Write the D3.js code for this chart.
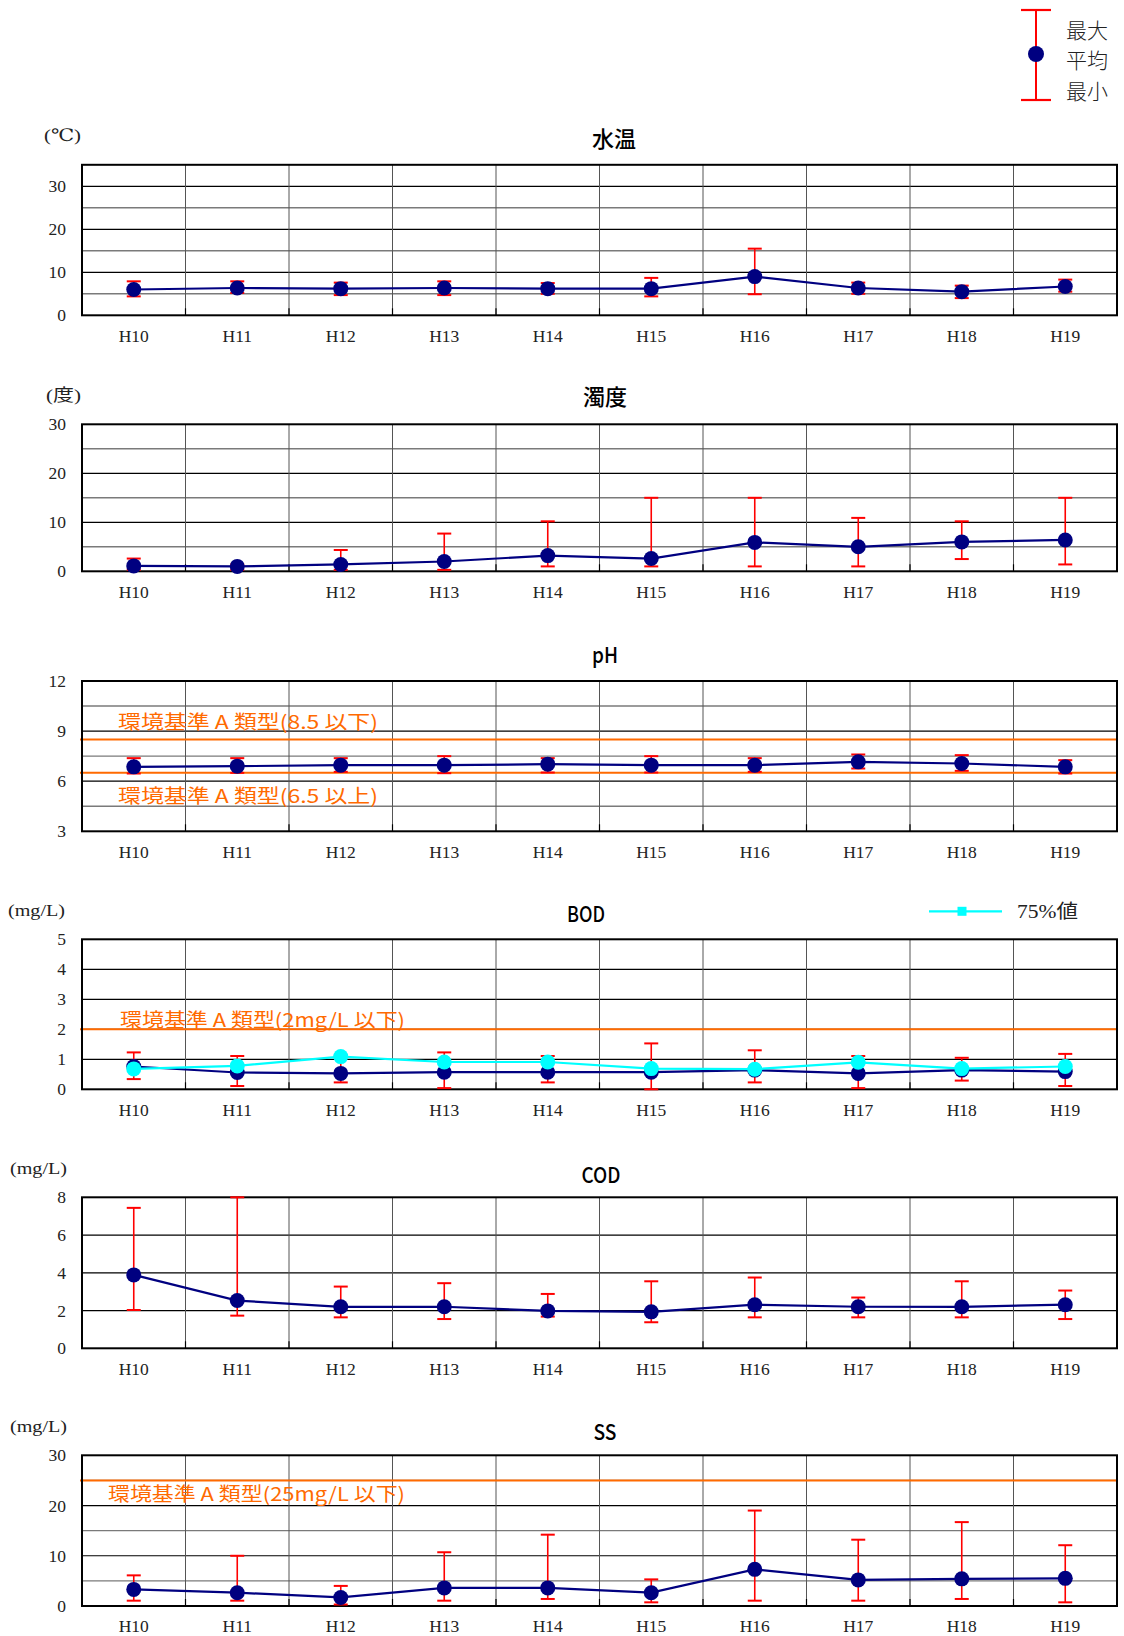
<!DOCTYPE html>
<html><head><meta charset="utf-8">
<script src="https://cdn.jsdelivr.net/npm/d3@7"></script>
<style>body{margin:0;background:#fff}svg{display:block}</style>
</head><body><svg id="c" width="1124" height="1636"></svg>
<script>
// ---------- data ----------
const years = ["H10","H11","H12","H13","H14","H15","H16","H17","H18","H19"];

const tempMean = [6.0, 6.35, 6.2, 6.35, 6.2, 6.2, 9.0, 6.35, 5.5, 6.7];
const tempMax  = [7.9, 7.9, 7.6, 7.9, 7.5, 8.7, 15.5, 7.6, 6.9, 8.3];
const tempMin  = [4.4, 5.2, 4.7, 4.7, 5.0, 4.4, 4.9, 5.0, 4.0, 5.5];

const turbMean = [1.1, 1.0, 1.4, 2.0, 3.2, 2.6, 5.9, 5.0, 6.0, 6.4];
const turbMax  = [2.6, 1.4, 4.35, 7.7, 10.2, 15.0, 15.0, 10.9, 10.2, 15.0];
const turbMin  = [0.3, 0.3, 0.3, 0.3, 1.0, 1.0, 1.0, 1.0, 2.5, 1.4];

const phMean = [6.86, 6.9, 6.96, 6.96, 7.02, 6.96, 6.96, 7.16, 7.06, 6.86];
const phMax  = [7.38, 7.38, 7.38, 7.5, 7.38, 7.5, 7.38, 7.6, 7.56, 7.26];
const phMin  = [6.46, 6.5, 6.56, 6.48, 6.52, 6.52, 6.56, 6.76, 6.62, 6.46];

const bodMean = [0.76, 0.56, 0.53, 0.57, 0.57, 0.57, 0.64, 0.53, 0.64, 0.59];
const bodMax  = [1.23, 1.11, 1.1, 1.23, 1.11, 1.53, 1.3, 1.11, 1.05, 1.18];
const bodMin  = [0.34, 0.11, 0.23, 0.04, 0.23, 0.0, 0.23, 0.04, 0.29, 0.11];
const bod75   = [0.68, 0.78, 1.09, 0.91, 0.91, 0.69, 0.67, 0.9, 0.69, 0.76];

const codMean = [3.89, 2.53, 2.2, 2.2, 1.98, 1.93, 2.31, 2.2, 2.2, 2.31];
const codMax  = [7.44, 8.0, 3.27, 3.45, 2.88, 3.55, 3.75, 2.69, 3.55, 3.06];
const codMin  = [2.03, 1.73, 1.64, 1.55, 1.68, 1.38, 1.64, 1.64, 1.64, 1.55];

const ssMean = [3.3, 2.65, 1.7, 3.6, 3.6, 2.65, 7.3, 5.2, 5.4, 5.5];
const ssMax  = [6.1, 10.0, 4.0, 10.7, 14.2, 5.3, 19.0, 13.2, 16.7, 12.1];
const ssMin  = [1.06, 1.06, 0.3, 1.06, 1.4, 0.73, 1.06, 1.06, 1.4, 0.73];

const ticksTemp = [0, 10, 20, 30];
const ticksTurb = [0, 10, 20, 30];
const ticksPh   = [3, 6, 9, 12];
const ticksBod  = [0, 1, 2, 3, 4, 5];
const ticksCod  = [0, 2, 4, 6, 8];
const ticksSs   = [0, 10, 20, 30];

const stdLabelPhHigh = "環境基準 A 類型(8.5 以下)";
const stdLabelPhLow  = "環境基準 A 類型(6.5 以上)";
const stdLabelBod    = "環境基準 A 類型(2mg/L 以下)";
const stdLabelSs     = "環境基準 A 類型(25mg/L 以下)";
const legendLabels = ["最大", "平均", "最小"];
const legend75 = "75%値";

// ---------- layout ----------
const svg = d3.select("#c");
svg.append("rect").attr("width",1124).attr("height",1636).attr("fill","#fff");
const L = 82, R = 1117;
const SERIF = "'Liberation Serif','DejaVu Serif','Noto Sans CJK JP',serif";
const GOTHIC = "'Noto Sans CJK JP','Noto Sans',sans-serif";
const ORANGE = "#FF6A00";
const NAVY = "#000080";

const charts = [
  {title:"水温", titleX:614, titleDy:28, titleW:null, unit:"(℃)", unitX:44, unitW:37, top:164.8, bottom:315.3, domain:[0,35], step:5, ticks:ticksTemp,
   mean:tempMean, max:tempMax, min:tempMin, stds:[]},
  {title:"濁度", titleX:605, titleDy:29, titleW:null, unit:"(度)", unitX:46, unitW:35, top:424.3, bottom:571.3, domain:[0,30], step:5, ticks:ticksTurb,
   mean:turbMean, max:turbMax, min:turbMin, stds:[]},
  {title:"pH", titleX:605, titleDy:28, titleW:26, unit:null, top:681, bottom:831.3, domain:[3,12], step:1.5, ticks:ticksPh,
   mean:phMean, max:phMax, min:phMin,
   stds:[{v:8.5, text:stdLabelPhHigh, x:118, dy:-19, w:260},{v:6.5, text:stdLabelPhLow, x:118, dy:22, w:260}]},
  {title:"BOD", titleX:586, titleDy:27, titleW:38, unit:"(mg/L)", unitX:8, unitW:57, top:939.3, bottom:1089.3, domain:[0,5], step:1, ticks:ticksBod,
   mean:bodMean, max:bodMax, min:bodMin, p75:bod75,
   stds:[{v:2, text:stdLabelBod, x:120, dy:-11, w:285}]},
  {title:"COD", titleX:601, titleDy:24, titleW:39, unit:"(mg/L)", unitX:10, unitW:57, top:1197.3, bottom:1348.3, domain:[0,8], step:2, ticks:ticksCod,
   mean:codMean, max:codMax, min:codMin, stds:[]},
  {title:"SS", titleX:605, titleDy:25.5, titleW:23, unit:"(mg/L)", unitX:10, unitW:57, top:1455.3, bottom:1606, domain:[0,30], step:5, ticks:ticksSs,
   mean:ssMean, max:ssMax, min:ssMin,
   stds:[{v:25, text:stdLabelSs, x:108, dy:12, w:297}]}
];

const x = d3.scaleBand().domain(years).range([L, R]);
const cx = d => x(d) + x.bandwidth()/2;

charts.forEach(cfg => {
  const g = svg.append("g");
  const y = d3.scaleLinear().domain(cfg.domain).range([cfg.bottom, cfg.top]);

  // horizontal grid
  const gridVals = d3.range(cfg.domain[0], cfg.domain[1] + 1e-9, cfg.step);
  const isMajor = d => cfg.ticks.some(t => Math.abs(t-d) < 1e-9);
  g.selectAll("line.h").data(gridVals.filter(v => v > cfg.domain[0] && v < cfg.domain[1])).enter()
    .append("line").attr("x1", L).attr("x2", R)
    .attr("y1", d => y(d)).attr("y2", d => y(d))
    .attr("stroke", d => isMajor(d) ? "#000" : "#7a7a7a")
    .attr("stroke-width", d => isMajor(d) ? 1.2 : 1.4);

  // vertical grid
  g.selectAll("line.v").data(years.slice(1)).enter()
    .append("line").attr("x1", d => x(d)).attr("x2", d => x(d))
    .attr("y1", cfg.top).attr("y2", cfg.bottom)
    .attr("stroke", "#555").attr("stroke-width", 1);

  // inner tick marks
  g.selectAll("line.tb").data(years.slice(1)).enter()
    .append("line").attr("x1", d => x(d)).attr("x2", d => x(d))
    .attr("y1", cfg.bottom - 7).attr("y2", cfg.bottom)
    .attr("stroke", "#000").attr("stroke-width", 1.2);

  // standard lines
  cfg.stds.forEach(s => {
    g.append("line").attr("x1", L - 2).attr("x2", R).attr("y1", y(s.v)).attr("y2", y(s.v))
      .attr("stroke", ORANGE).attr("stroke-width", 2);
    g.append("text").attr("x", s.x).attr("y", y(s.v) + s.dy)
      .attr("dominant-baseline", "central")
      .attr("font-family", GOTHIC).attr("font-size", 19).attr("fill", ORANGE)
      .attr("textLength", s.w).attr("lengthAdjust", "spacingAndGlyphs")
      .text(s.text);
  });

  // frame
  g.append("rect").attr("x", L).attr("y", cfg.top).attr("width", R - L).attr("height", cfg.bottom - cfg.top)
    .attr("fill", "none").attr("stroke", "#000").attr("stroke-width", 2);

  // y axis
  const ya = g.append("g").attr("transform", `translate(${L},0)`)
    .call(d3.axisLeft(y).tickValues(cfg.ticks).tickSize(0).tickPadding(16).tickFormat(d3.format("d")));
  ya.select(".domain").remove();
  ya.selectAll("text").attr("font-family", SERIF).attr("font-size", 17.5).attr("fill", "#222");

  // x axis
  const xa = g.append("g").attr("transform", `translate(0,${cfg.bottom})`)
    .call(d3.axisBottom(x).tickSize(0).tickPadding(14));
  xa.select(".domain").remove();
  xa.selectAll("text").attr("font-family", SERIF).attr("font-size", 17.5).attr("fill", "#222");

  // title
  const t = g.append("text").attr("x", cfg.titleX).attr("y", cfg.top - cfg.titleDy)
    .attr("text-anchor", "middle").attr("dominant-baseline", "central")
    .attr("font-family", GOTHIC).attr("font-size", 22).attr("font-weight", 500).attr("fill", "#000")
    .text(cfg.title);
  if (cfg.titleW) t.attr("textLength", cfg.titleW).attr("lengthAdjust", "spacingAndGlyphs");

  // unit
  if (cfg.unit) {
    g.append("text").attr("x", cfg.unitX).attr("y", cfg.top - 29)
      .attr("dominant-baseline", "central")
      .attr("font-family", SERIF).attr("font-size", 17).attr("fill", "#222")
      .attr("textLength", cfg.unitW).attr("lengthAdjust", "spacingAndGlyphs")
      .text(cfg.unit);
  }

  // error bars
  const eb = g.append("g").attr("stroke", "#FF0000").attr("stroke-width", 1.6);
  years.forEach((yr, i) => {
    const xc = cx(yr);
    eb.append("line").attr("x1", xc).attr("x2", xc).attr("y1", y(cfg.min[i])).attr("y2", y(cfg.max[i]));
    eb.append("line").attr("x1", xc - 7).attr("x2", xc + 7).attr("y1", y(cfg.max[i])).attr("y2", y(cfg.max[i])).attr("stroke-width", 2);
    eb.append("line").attr("x1", xc - 7).attr("x2", xc + 7).attr("y1", y(cfg.min[i])).attr("y2", y(cfg.min[i])).attr("stroke-width", 2);
  });

  // mean line + dots
  const line = d3.line().x((d, i) => cx(years[i])).y(d => y(d));
  g.append("path").datum(cfg.mean).attr("d", line).attr("fill", "none")
    .attr("stroke", NAVY).attr("stroke-width", 2.2);
  g.selectAll("circle.m").data(cfg.mean).enter().append("circle")
    .attr("cx", (d, i) => cx(years[i])).attr("cy", d => y(d)).attr("r", 7.5).attr("fill", NAVY);

  if (cfg.p75) {
    g.append("path").datum(cfg.p75).attr("d", line).attr("fill", "none")
      .attr("stroke", "#00FFFF").attr("stroke-width", 2.2);
    g.selectAll("circle.p").data(cfg.p75).enter().append("circle")
      .attr("cx", (d, i) => cx(years[i])).attr("cy", d => y(d)).attr("r", 7.5).attr("fill", "#00FFFF");
    // legend 75%
    const ly = cfg.top - 28;
    g.append("line").attr("x1", 929).attr("x2", 1002).attr("y1", ly).attr("y2", ly)
      .attr("stroke", "#00FFFF").attr("stroke-width", 2.2);
    g.append("rect").attr("x", 962 - 4.5).attr("y", ly - 4.5).attr("width", 9).attr("height", 9).attr("fill", "#00FFFF");
    g.append("text").attr("x", 1017).attr("y", ly).attr("dominant-baseline", "central")
      .attr("font-family", SERIF).attr("font-size", 19).attr("fill", "#222")
      .attr("textLength", 61).attr("lengthAdjust", "spacingAndGlyphs")
      .text(legend75);
  }
});

// top legend
const lg = svg.append("g");
lg.append("line").attr("x1", 1036).attr("x2", 1036).attr("y1", 10).attr("y2", 100).attr("stroke", "#FF0000").attr("stroke-width", 2);
lg.append("line").attr("x1", 1021).attr("x2", 1051).attr("y1", 10).attr("y2", 10).attr("stroke", "#FF0000").attr("stroke-width", 2.2);
lg.append("line").attr("x1", 1021).attr("x2", 1051).attr("y1", 100).attr("y2", 100).attr("stroke", "#FF0000").attr("stroke-width", 2.2);
lg.append("circle").attr("cx", 1036).attr("cy", 54).attr("r", 8).attr("fill", NAVY);
lg.selectAll("text").data(legendLabels).enter().append("text")
  .attr("x", 1066).attr("y", (d, i) => [29, 59, 90][i]).attr("dominant-baseline", "central")
  .attr("font-family", GOTHIC).attr("font-size", 21).attr("font-weight", 300).attr("fill", "#222")
  .text(d => d);
</script></body></html>
